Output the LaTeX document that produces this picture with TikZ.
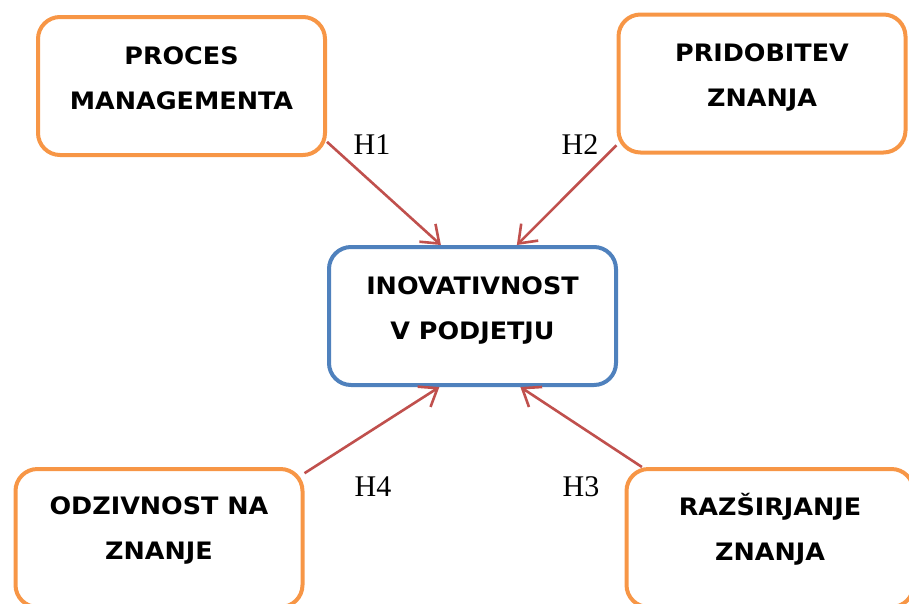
\documentclass[tikz,border=0pt]{standalone}
\usepackage{fontspec}
\setmainfont{Liberation Serif}
\newfontfamily\boxfont[FakeStretch=1.06]{DejaVu Sans}
\usetikzlibrary{arrows.meta}
\definecolor{boxorange}{HTML}{F79646}
\definecolor{boxblue}{HTML}{4F81BD}
\definecolor{arrowred}{HTML}{C0504D}

\begin{document}
\begin{tikzpicture}[
  x=1pt, y=-1pt,
  box/.style={
    draw=#1,
    line width=4pt,
    rounded corners=22pt,
    minimum width=287pt,
    minimum height=138pt
  },
  boxtext/.style={
    font=\fontsize{24}{45}\selectfont\boxfont\bfseries,
    align=center
  },
  hyp/.style={font=\fontsize{30}{31}\selectfont},
  arrow/.style={-{Straight Barb[length=16pt,width=24pt]}, draw=arrowred, line width=2.6pt}
]
\useasboundingbox (0,0) rectangle (909,603);

% boxes
\node[box=boxorange] (proc) at (181.5,86) {};
\node[box=boxorange] (prid) at (762,83.5) {};
\node[box=boxblue] (inov) at (472.5,316) {};
\node[box=boxorange] (odz) at (159,538) {};
\node[box=boxorange] (raz) at (770,538) {};

\node[boxtext] (proc-t) at ([yshift=8pt]proc.center) {PROCES\\MANAGEMENTA};
\node[boxtext] (prid-t) at ([yshift=6pt]prid.center) {PRIDOBITEV\\ZNANJA};
\node[boxtext] (inov-t) at ([yshift=6pt]inov.center) {INOVATIVNOST\\V PODJETJU};
\node[boxtext] (odz-t) at ([yshift=8pt]odz.center) {ODZIVNOST NA\\ZNANJE};
\node[boxtext] (raz-t) at ([yshift=9pt]raz.center) {RAZŠIRJANJE\\ZNANJA};

% hypotheses
\draw[arrow] (proc.-21) -- (inov.114);
\draw[arrow] (prid.-157) -- (inov.58);
\draw[arrow] (odz.24) -- (inov.-115);
\draw[arrow] (raz.151) -- (inov.-56);

\node[hyp] (h1) at (372,145) {H1};
\node[hyp] (h2) at (580,145) {H2};
\node[hyp] (h4) at (373,487) {H4};
\node[hyp] (h3) at (581,487) {H3};
\end{tikzpicture}
\end{document}
